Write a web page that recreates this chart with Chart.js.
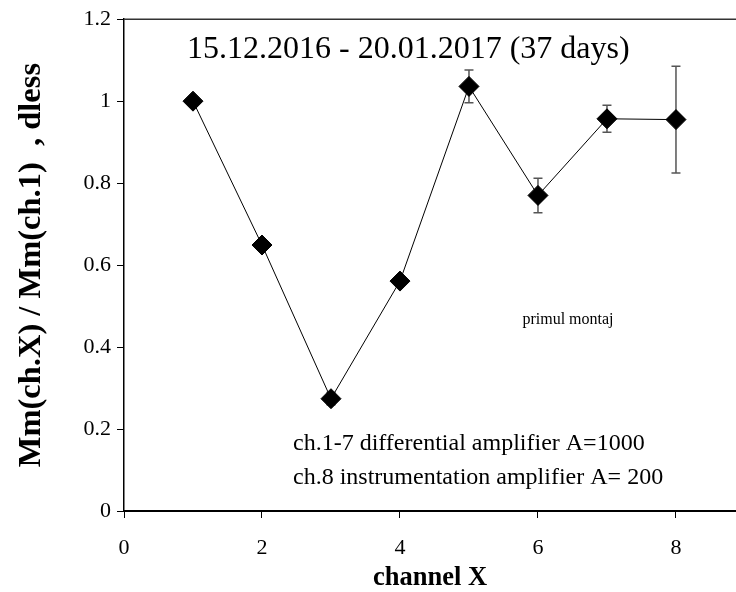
<!DOCTYPE html>
<html>
<head>
<meta charset="utf-8">
<script src="https://cdn.jsdelivr.net/npm/chart.js@4/dist/chart.umd.min.js"></script>
<style>
  html, body { margin: 0; padding: 0; background: #fff; }
  canvas { display: block; }
</style>
</head>
<body>
<canvas id="chart" width="736" height="592"></canvas>
<script>
// ---- data ----
const channels = [1, 2, 3, 4, 5, 6, 7, 8];
const ratio = [1.0, 0.649, 0.274, 0.561, 1.036, 0.770, 0.957, 0.955];
const ratioErr = [0, 0, 0.015, 0, 0.04, 0.042, 0.033, 0.13];

const xTicks = [0, 2, 4, 6, 8];
const yTicks = [0, 0.2, 0.4, 0.6, 0.8, 1, 1.2];

const titleText = "15.12.2016 - 20.01.2017 (37 days)";
const noteText = "primul montaj";
const ampLines = [
    "ch.1-7 differential amplifier A=1000",
    "ch.8 instrumentation amplifier A= 200"
];

const serif = "'Liberation Serif', 'Times New Roman', serif";

/* error bars, drawn under the markers */
const errorBars = {
    id: "errorBars",
    beforeDatasetsDraw(chart) {
        const { ctx, scales: { x, y } } = chart;
        ctx.save();
        ctx.strokeStyle = "#555";
        ctx.lineWidth = 1.5;
        channels.forEach((ch, i) => {
            const e = ratioErr[i];
            if (!e) return;
            const px = x.getPixelForValue(ch);
            const top = y.getPixelForValue(ratio[i] + e);
            const bot = y.getPixelForValue(ratio[i] - e);
            ctx.beginPath();
            ctx.moveTo(px, top);
            ctx.lineTo(px, bot);
            ctx.moveTo(px - 4.5, top);
            ctx.lineTo(px + 4.5, top);
            ctx.moveTo(px - 4.5, bot);
            ctx.lineTo(px + 4.5, bot);
            ctx.stroke();
        });
        ctx.restore();
    }
};

/* top frame line and the text notes inside the plot */
const notes = {
    id: "notes",
    afterDraw(chart) {
        const { ctx, chartArea } = chart;
        ctx.save();
        ctx.strokeStyle = "#333";
        ctx.lineWidth = 1.5;
        ctx.beginPath();
        ctx.moveTo(chartArea.left, chartArea.top);
        ctx.lineTo(chartArea.right, chartArea.top);
        ctx.stroke();

        ctx.fillStyle = "#000";
        ctx.textBaseline = "middle";
        ctx.textAlign = "left";
        ctx.font = "32px " + serif;
        ctx.fillText(titleText, 187, 50);

        ctx.font = "24px " + serif;
        ctx.fillText(ampLines[0], 293, 444);
        ctx.fillText(ampLines[1], 293, 478);

        ctx.textAlign = "center";
        ctx.font = "16px " + serif;
        ctx.fillText(noteText, 568, 320);
        ctx.restore();
    }
};

new Chart(document.getElementById("chart"), {
    type: "scatter",
    data: {
        datasets: [{
            data: channels.map((c, i) => ({ x: c, y: ratio[i] })),
            showLine: true,
            borderColor: "#000",
            borderWidth: 1,
            pointStyle: "rectRot",
            pointRadius: 10,
            pointBackgroundColor: "#000",
            pointBorderColor: "#000",
            pointBorderWidth: 1
        }]
    },
    options: {
        responsive: false,
        animation: false,
        layout: { autoPadding: false, padding: { top: 18, right: 0, bottom: 0, left: 0 } },
        plugins: {
            legend: { display: false },
            tooltip: { enabled: false }
        },
        scales: {
            x: {
                type: "linear",
                min: 0,
                max: 8.87,
                afterBuildTicks: s => { s.ticks = xTicks.map(v => ({ value: v })); },
                afterFit: s => { s.height = 81; s.paddingRight = 0; s.paddingLeft = 0; },
                grid: { drawOnChartArea: false, tickLength: 7, color: "#000", lineWidth: 1 },
                border: { display: true, color: "#000", width: 2 },
                ticks: {
                    color: "#000",
                    padding: 17,
                    font: { family: serif, size: 22 },
                    callback: v => String(v)
                },
                title: {
                    display: true,
                    text: "channel X",
                    color: "#000",
                    font: { family: serif, size: 26.5, weight: "bold", lineHeight: 1 },
                    padding: { top: 0, bottom: 1 }
                }
            },
            y: {
                min: 0,
                max: 1.2,
                afterBuildTicks: s => { s.ticks = yTicks.map(v => ({ value: v })); },
                afterFit: s => { s.width = 124; },
                grid: { drawOnChartArea: false, tickLength: 7, color: "#000", lineWidth: 1 },
                border: { display: true, color: "#000", width: 1.5 },
                ticks: {
                    color: "#000",
                    padding: 6,
                    font: { family: serif, size: 22 },
                    callback: v => String(v)
                },
                title: {
                    display: true,
                    text: "Mm(ch.X) / Mm(ch.1)  , dless",
                    color: "#000",
                    font: { family: serif, size: 32.5, weight: "bold", lineHeight: 1 },
                    padding: { top: 15, bottom: 0 }
                }
            }
        }
    },
    plugins: [errorBars, notes]
});
</script>
</body>
</html>
